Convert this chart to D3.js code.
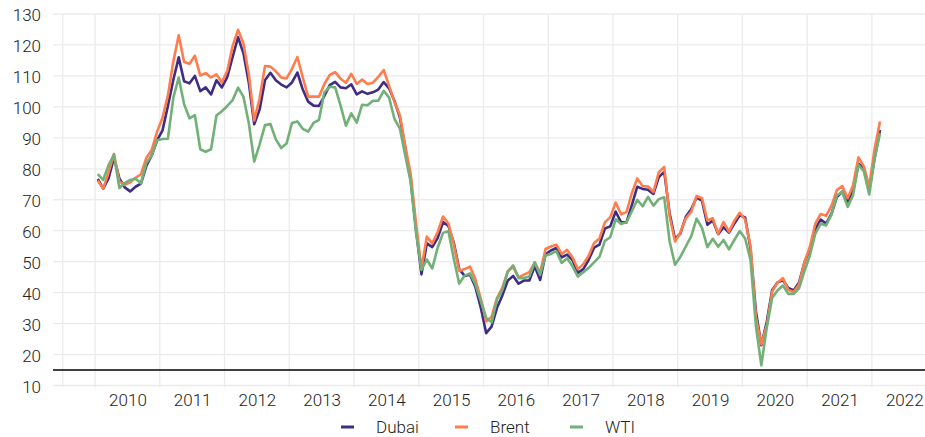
<!DOCTYPE html>
<meta charset="utf-8">
<script src="https://d3js.org/d3.v7.min.js"></script>
<style>
  body { margin: 0; background: #fff; }
  text { font-family: Roboto, sans-serif; font-weight: 300; }
</style>
<div id="my_dataviz"></div>

<script>
// monthly averages, Jan 2010 - Feb 2022 (US$/bbl)
const startYear = 2010;

const dubai = [
  76.7, 73.6, 76.9, 83.6, 76.9, 74.0, 72.7, 74.2, 75.2, 80.9, 84.3, 89.2,
  92.4, 100.3, 108.7, 116.0, 108.3, 107.6, 110.0, 105.1, 106.3, 104.0, 108.6, 106.3,
  109.6, 116.1, 122.5, 117.3, 107.8, 94.4, 99.1, 108.6, 111.0, 108.6, 107.2, 106.3,
  107.9, 111.1, 105.6, 101.7, 100.4, 100.3, 103.5, 107.0, 108.1, 106.3, 106.0, 107.3,
  104.0, 105.0, 104.2, 104.7, 105.6, 108.0, 106.0, 101.9, 96.6, 86.8, 76.4, 60.3,
  45.9, 55.9, 54.7, 57.6, 62.8, 61.5, 56.1, 47.6, 45.4, 45.8, 41.8, 35.1,
  26.9, 29.0, 35.1, 39.1, 43.9, 45.4, 42.9, 43.9, 43.9, 48.5, 44.1, 52.4,
  53.6, 54.4, 51.4, 52.3, 50.5, 46.4, 47.6, 50.6, 54.5, 55.5, 60.7, 61.4,
  66.2, 62.7, 62.7, 68.3, 74.2, 73.5, 73.2, 71.9, 77.3, 79.0, 65.6, 57.3,
  59.1, 64.5, 66.9, 70.7, 69.7, 61.9, 63.3, 58.9, 61.1, 59.4, 62.3, 65.0,
  64.3, 54.2, 33.8, 23.0, 30.5, 40.8, 43.3, 44.0, 41.5, 40.7, 43.3, 49.8,
  54.0, 60.5, 63.6, 62.3, 65.4, 70.9, 72.6, 69.5, 72.6, 81.6, 80.3, 73.2,
  83.5, 92.5
];

const brent = [
  76.2, 73.6, 78.8, 84.8, 75.9, 74.8, 75.6, 77.1, 78.2, 83.5, 86.1, 92.0,
  96.5, 103.7, 114.6, 123.1, 114.5, 113.9, 116.5, 110.1, 110.9, 109.5, 110.5, 107.9,
  111.6, 119.7, 124.9, 120.5, 110.5, 95.6, 102.8, 113.2, 113.0, 111.5, 109.5, 109.2,
  112.3, 116.1, 109.5, 103.3, 103.3, 103.3, 107.4, 110.3, 111.2, 109.1, 107.8, 110.7,
  107.4, 108.8, 107.4, 107.8, 109.7, 111.9, 106.8, 101.6, 97.3, 87.3, 78.4, 62.3,
  47.8, 58.1, 55.9, 59.5, 64.6, 62.3, 55.5, 47.0, 47.6, 48.4, 44.3, 38.0,
  30.7, 32.2, 38.2, 41.6, 46.9, 48.3, 44.9, 45.8, 46.6, 49.7, 46.4, 54.1,
  54.9, 55.5, 52.5, 53.8, 51.4, 47.6, 49.2, 51.9, 56.0, 57.5, 62.7, 64.4,
  69.1, 65.3, 66.0, 72.1, 76.9, 74.4, 74.3, 72.5, 78.9, 80.6, 64.7, 56.5,
  59.4, 64.0, 66.1, 71.2, 70.5, 63.3, 64.0, 59.0, 62.8, 59.7, 63.2, 65.8,
  63.6, 55.0, 32.0, 23.3, 29.4, 40.3, 43.2, 44.7, 40.9, 40.2, 42.7, 49.9,
  54.8, 62.2, 65.4, 64.8, 68.0, 73.1, 74.4, 70.5, 74.6, 83.7, 80.8, 74.3,
  86.5, 95.3
];

const wti = [
  78.3, 76.4, 81.2, 84.5, 73.8, 75.4, 76.4, 76.8, 75.3, 81.9, 84.3, 89.2,
  89.6, 89.7, 102.9, 109.5, 100.9, 96.3, 97.3, 86.3, 85.5, 86.3, 97.2, 98.6,
  100.3, 102.2, 106.2, 103.3, 94.7, 82.3, 87.9, 94.1, 94.5, 89.5, 86.7, 88.2,
  94.8, 95.3, 92.9, 92.0, 94.8, 95.8, 104.7, 106.5, 106.3, 100.5, 93.9, 97.9,
  94.9, 100.7, 100.5, 102.0, 102.0, 105.2, 103.0, 96.1, 93.0, 84.3, 75.8, 59.3,
  47.3, 50.7, 47.8, 54.5, 59.3, 59.8, 50.9, 42.9, 45.5, 46.2, 42.7, 37.3,
  31.8, 30.4, 37.8, 40.9, 46.8, 48.8, 44.7, 44.7, 45.2, 49.8, 45.7, 52.0,
  52.5, 53.4, 49.6, 51.1, 48.5, 45.2, 46.6, 48.0, 49.8, 51.6, 56.7, 57.9,
  63.7, 62.2, 62.7, 66.3, 70.0, 67.9, 70.9, 68.1, 70.2, 70.8, 56.6, 49.0,
  51.6, 54.9, 58.2, 63.9, 60.9, 54.7, 57.4, 54.8, 57.0, 54.0, 57.0, 59.9,
  57.5, 50.5, 29.2, 16.5, 28.6, 38.3, 40.7, 42.3, 39.6, 39.6, 41.4, 47.0,
  52.0, 59.0, 62.3, 61.7, 65.2, 71.4, 72.5, 67.7, 71.5, 81.3, 79.2, 71.7,
  83.2, 91.5
];

const yearLabels = [2010, 2011, 2012, 2013, 2014, 2015, 2016, 2017, 2018, 2019, 2020, 2021, 2022];
const yTicks = [10, 20, 30, 40, 50, 60, 70, 80, 90, 100, 110, 120, 130];
const vGrid = [2009.5].concat(yearLabels);
const refLine = 15;

const seriesNames = ["Dubai", "Brent", "WTI"];
const seriesValues = [dubai, brent, wti];
const colors = ["#3f2c85", "#ff7d4d", "#71b077"];

// dimensions
const W = 925, H = 437;
const plot = {left: 53, right: 925, top: 14, bottom: 385.5};

const svg = d3.select("#my_dataviz")
  .append("svg")
    .attr("width", W)
    .attr("height", H);

// scales (x in decimal years, each month at its middle)
const x = d3.scaleLinear()
  .domain([2009.35, 2022.82])
  .range([plot.left, plot.right]);

const y = d3.scaleLinear()
  .domain([10, 130])
  .range([plot.bottom, plot.top]);

// grid
svg.append("g")
  .selectAll("line")
  .data(yTicks)
  .join("line")
    .attr("x1", plot.left)
    .attr("x2", plot.right)
    .attr("y1", d => y(d))
    .attr("y2", d => y(d))
    .attr("stroke", "#ebebeb")
    .attr("stroke-width", 1.3);

svg.append("g")
  .selectAll("line")
  .data(vGrid)
  .join("line")
    .attr("x1", d => x(d))
    .attr("x2", d => x(d))
    .attr("y1", plot.top)
    .attr("y2", plot.bottom + 2)
    .attr("stroke", "#ebebeb")
    .attr("stroke-width", 1.3);

// Y axis labels
svg.append("g")
  .attr("transform", `translate(${plot.left - 12},0)`)
  .call(d3.axisLeft(y).tickValues(yTicks).tickSize(0).tickPadding(0))
  .call(g => g.select(".domain").remove())
  .selectAll("text")
    .style("font-family", "Roboto, sans-serif")
    .style("font-weight", 300)
    .style("font-size", "17px")
    .attr("fill", "#222")
    .attr("dy", "0.4em");

// X axis labels, centred in each year
svg.append("g")
  .attr("transform", `translate(0,${plot.bottom})`)
  .call(d3.axisBottom(x)
    .tickValues(yearLabels.map(d => d + 0.5))
    .tickFormat(d => String(Math.floor(d)))
    .tickSize(0)
    .tickPadding(8))
  .call(g => g.select(".domain").remove())
  .selectAll("text")
    .style("font-family", "Roboto, sans-serif")
    .style("font-weight", 300)
    .style("font-size", "17px")
    .attr("fill", "#222");

// reference line
svg.append("line")
  .attr("x1", plot.left)
  .attr("x2", plot.right)
  .attr("y1", y(refLine))
  .attr("y2", y(refLine))
  .attr("stroke", "#000")
  .attr("stroke-width", 1.5);

// lines
const line = d3.line()
  .x((d, i) => x(startYear + (i + 0.5) / 12))
  .y(d => y(d));

svg.append("g")
  .selectAll("path")
  .data(seriesValues)
  .join("path")
    .attr("d", d => line(d))
    .attr("fill", "none")
    .attr("stroke", (d, i) => colors[i])
    .attr("stroke-width", 2.6)
    .attr("stroke-linejoin", "round");

// legend
const legendX = [341, 455, 570];
const legend = svg.append("g")
  .selectAll("g")
  .data(seriesNames)
  .join("g")
    .attr("transform", (d, i) => `translate(${legendX[i]},427)`);

legend.append("line")
  .attr("x1", 0)
  .attr("x2", 13)
  .attr("stroke", (d, i) => colors[i])
  .attr("stroke-width", 3);

legend.append("text")
  .attr("x", 35)
  .attr("dy", "0.36em")
  .style("font-size", "17px")
  .attr("fill", "#222")
  .text(d => d);
</script>
